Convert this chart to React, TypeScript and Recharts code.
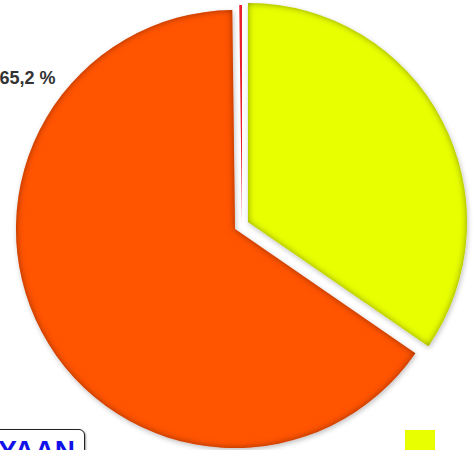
import React from 'react';
import { PieChart, Pie, Cell } from 'recharts';

// slices clockwise from 12 o'clock
const SLICE_NAMES = ['Jaune', 'Orange', 'Rouge'];
const SLICE_VALUES = [34.6, 65.2, 0.2];
const SLICE_COLORS = ['#E8FF00', '#FF5500', '#E8202E'];
const LABELLED_SLICE = 1;

// how far each slice is pulled out of the pie
const EXPLODE = [
  { dx: 13, dy: -7 },
  { dx: 0, dy: 0 },
  { dx: 7, dy: -5 },
];
const DRAW_ORDER = [1, 0, 2];

const W = 476;
const H = 450;
const CX = 235;
const CY = 229;
const R = 219;

const chartData = SLICE_NAMES.map((name, i) => ({ name, value: SLICE_VALUES[i] }));

const renderLabel = (props: any) => {
  const { cx, cy, outerRadius, index, value } = props;
  if (index !== LABELLED_SLICE) return null;
  return (
    <text
      x={cx - outerRadius * 0.82}
      y={cy - outerRadius * 0.69}
      textAnchor="end"
      dominantBaseline="central"
      fill="#333"
      fontSize={18}
      fontWeight="bold"
      fontFamily="Liberation Sans, Arial, sans-serif"
    >
      {`${Number(value).toFixed(1).replace('.', ',')} %`}
    </text>
  );
};

const App: React.FC = () => {
  return (
    <div style={{ position: 'absolute', left: 0, top: 0, width: W, height: H, overflow: 'hidden', background: '#fff' }}>
      <svg width={0} height={0} style={{ position: 'absolute' }}>
        <defs>
          <filter id="bevel" x="-10%" y="-10%" width="120%" height="120%">
            <feGaussianBlur in="SourceAlpha" stdDeviation="3.5" result="blurIn" />
            <feComposite in="SourceAlpha" in2="blurIn" operator="out" result="edge" />
            <feFlood floodColor="#000" floodOpacity="0.8" />
            <feComposite in2="edge" operator="in" result="inner" />
            <feGaussianBlur in="SourceAlpha" stdDeviation="2.5" result="blurOut" />
            <feOffset in="blurOut" dx="1" dy="2" result="offOut" />
            <feFlood floodColor="#000" floodOpacity="0.25" />
            <feComposite in2="offOut" operator="in" result="drop" />
            <feMerge>
              <feMergeNode in="drop" />
              <feMergeNode in="SourceGraphic" />
              <feMergeNode in="inner" />
            </feMerge>
          </filter>
        </defs>
      </svg>
      <PieChart width={W} height={H} margin={{ top: 0, right: 0, bottom: 0, left: 0 }}>
        {DRAW_ORDER.map((slice) => (
          <Pie
            key={`pie-${slice}`}
            data={chartData}
            dataKey="value"
            nameKey="name"
            cx={CX + EXPLODE[slice].dx}
            cy={CY + EXPLODE[slice].dy}
            outerRadius={R}
            startAngle={90}
            endAngle={-270}
            stroke="none"
            isAnimationActive={false}
            label={slice === LABELLED_SLICE ? renderLabel : false}
            labelLine={false}
          >
            {chartData.map((entry, index) => (
              <Cell
                key={`cell-${slice}-${index}`}
                fill={index === slice ? SLICE_COLORS[index] : 'none'}
                filter={index === slice && slice !== 2 ? 'url(#bevel)' : undefined}
              />
            ))}
          </Pie>
        ))}
      </PieChart>
      <div
        style={{
          position: 'absolute',
          left: -50,
          top: 429,
          width: 135,
          height: 40,
          border: '1px solid #222',
          borderRadius: 6,
          background: '#fff',
          boxShadow: '1px 1px 2px rgba(0,0,0,0.4)',
          boxSizing: 'border-box',
          textAlign: 'right',
          paddingRight: 9,
          paddingTop: 6,
          fontFamily: 'Liberation Sans, Arial, sans-serif',
          fontWeight: 'bold',
          fontSize: 28,
          color: '#1212e8',
          lineHeight: '30px',
        }}
      >
        YAAN
      </div>
      <div
        style={{
          position: 'absolute',
          left: 405,
          top: 430,
          width: 30,
          height: 30,
          background: SLICE_COLORS[0],
        }}
      />
    </div>
  );
};

export default App;
